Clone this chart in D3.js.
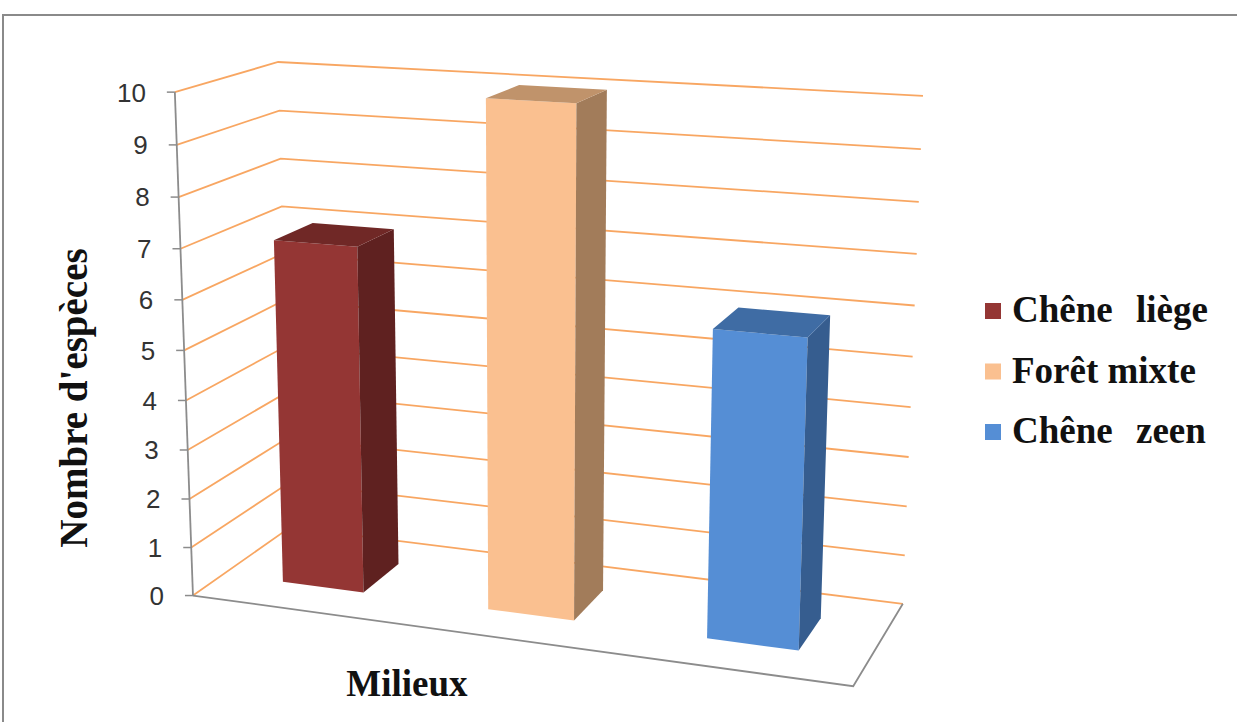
<!DOCTYPE html>
<html>
<head>
<meta charset="utf-8">
<script src="https://cdn.jsdelivr.net/npm/d3@7"></script>
<style>
  body { margin: 0; background: #fff; }
  svg { display: block; }
</style>
</head>
<body>
<svg id="chart" width="1237" height="722"></svg>
<script>
// data
const series = ["Chêne liège", "Forêt mixte", "Chêne zeen"];
const values = [7, 10, 6];
const frontColors = ["#943634", "#fac090", "#558ed5"];
const sideColors = ["#5f2120", "#a27c5a", "#365d8f"];
const topColors = ["#702826", "#c0936b", "#3f6ca4"];
const yMax = 10;

const svg = d3.select("#chart");
const W = 1237, H = 722;

// where the corners of the 3d box land on screen (unit cube: x, value, depth)
const calib = [
  [[0, 1, 0], [175, 92]],
  [[0, 0, 0], [193, 595]],
  [[0, 1, 1], [278, 62]],
  [[0, 0, 1], [290, 528]],
  [[1, 1, 1], [923, 96]],
  [[1, 0, 1], [903, 603]],
  [[1, 0, 0], [853, 687]]
];

// least squares fit of a 3x4 projection (DLT)
function solveCamera(pts) {
  const rows = [], rhs = [];
  pts.forEach(([[X, Y, Z], [u, v]]) => {
    rows.push([X, Y, Z, 1, 0, 0, 0, 0, -u * X, -u * Y, -u * Z]); rhs.push(u);
    rows.push([0, 0, 0, 0, X, Y, Z, 1, -v * X, -v * Y, -v * Z]); rhs.push(v);
  });
  const n = 11;
  const M = [];
  for (let i = 0; i < n; i++) {
    const r = new Array(n + 1).fill(0);
    rows.forEach((row, k) => {
      for (let j = 0; j < n; j++) r[j] += row[i] * row[j];
      r[n] += row[i] * rhs[k];
    });
    M.push(r);
  }
  for (let c = 0; c < n; c++) {
    let p = c;
    for (let r = c + 1; r < n; r++) if (Math.abs(M[r][c]) > Math.abs(M[p][c])) p = r;
    [M[c], M[p]] = [M[p], M[c]];
    for (let r = 0; r < n; r++) {
      if (r === c) continue;
      const f = M[r][c] / M[c][c];
      for (let k = c; k <= n; k++) M[r][k] -= f * M[c][k];
    }
  }
  return M.map((r, i) => r[n] / r[i]);
}
const cam = solveCamera(calib);
function project([X, Y, Z]) {
  const w = cam[8] * X + cam[9] * Y + cam[10] * Z + 1;
  return [
    (cam[0] * X + cam[1] * Y + cam[2] * Z + cam[3]) / w,
    (cam[4] * X + cam[5] * Y + cam[6] * Z + cam[7]) / w
  ];
}

const x = d3.scaleBand().domain(series).range([0, 1]).paddingInner(0.6).paddingOuter(0.3);
const y = d3.scaleLinear().domain([0, yMax]).range([0, 1]);
const zFront = 0.3, zBack = 0.7;

const line = d3.line();
const poly = pts => line(pts.map(project)) + "Z";

// frame
svg.append("rect")
  .attr("x", 3).attr("y", 15)
  .attr("width", W + 50).attr("height", H + 50)
  .attr("fill", "none")
  .attr("stroke", "#8a8a8a")
  .attr("stroke-width", 2);

const ticks = y.ticks(10);

// gridlines on left and back walls
svg.append("g").selectAll("path")
  .data(ticks)
  .join("path")
  .attr("d", t => line([[0, y(t), 0], [0, y(t), 1], [1, y(t), 1]].map(project)))
  .attr("fill", "none")
  .attr("stroke", "#f79646")
  .attr("stroke-opacity", 0.85)
  .attr("stroke-width", 1.8);

// floor edges
svg.append("path")
  .attr("d", line([[0, 0, 0], [1, 0, 0], [1, 0, 1]].map(project)))
  .attr("fill", "none")
  .attr("stroke", "#8c8c8c")
  .attr("stroke-width", 1.8);

// vertical axis + ticks
svg.append("path")
  .attr("d", line([[0, 0, 0], [0, 1, 0]].map(project)))
  .attr("stroke", "#8c8c8c")
  .attr("stroke-width", 1.8);

const tickG = svg.append("g").selectAll("g")
  .data(ticks)
  .join("g")
  .attr("transform", t => { const p = project([0, y(t), 0]); return `translate(${p[0]},${p[1]})`; });
tickG.append("line")
  .attr("x1", -8).attr("x2", 0)
  .attr("stroke", "#8c8c8c")
  .attr("stroke-width", 1.5);
tickG.append("text")
  .attr("x", -29)
  .attr("dy", "0.36em")
  .attr("text-anchor", "end")
  .attr("font-family", "Liberation Sans, Arial, sans-serif")
  .attr("font-size", 26)
  .attr("fill", "#333")
  .text(t => t);

// bars
const bars = series.map((s, i) => ({ name: s, value: values[i], i }));
const barG = svg.append("g").selectAll("g")
  .data(bars)
  .join("g");

barG.append("path") // front
  .attr("d", d => {
    const x0 = x(d.name), x1 = x0 + x.bandwidth(), h = y(d.value);
    return poly([[x0, 0, zFront], [x1, 0, zFront], [x1, h, zFront], [x0, h, zFront]]);
  })
  .attr("fill", d => frontColors[d.i]);

barG.append("path") // right side
  .attr("d", d => {
    const x1 = x(d.name) + x.bandwidth(), h = y(d.value);
    return poly([[x1, 0, zFront], [x1, 0, zBack], [x1, h, zBack], [x1, h, zFront]]);
  })
  .attr("fill", d => sideColors[d.i]);

barG.append("path") // top
  .attr("d", d => {
    const x0 = x(d.name), x1 = x0 + x.bandwidth(), h = y(d.value);
    return poly([[x0, h, zFront], [x1, h, zFront], [x1, h, zBack], [x0, h, zBack]]);
  })
  .attr("fill", d => topColors[d.i]);

// axis titles
svg.append("text")
  .attr("transform", "translate(87,398) rotate(-90)")
  .attr("text-anchor", "middle")
  .attr("font-family", "Liberation Serif, Times New Roman, serif")
  .attr("font-weight", "bold")
  .attr("font-size", 39)
  .attr("fill", "#111")
  .text("Nombre d'espèces");

svg.append("text")
  .attr("x", 407).attr("y", 696)
  .attr("text-anchor", "middle")
  .attr("font-family", "Liberation Serif, Times New Roman, serif")
  .attr("font-weight", "bold")
  .attr("font-size", 37)
  .attr("fill", "#111")
  .text("Milieux");

// legend
const legend = svg.append("g").selectAll("g")
  .data(bars)
  .join("g")
  .attr("transform", d => `translate(985,${322 + d.i * 60.5})`);
legend.append("rect")
  .attr("x", 0).attr("y", -19)
  .attr("width", 16).attr("height", 16)
  .attr("fill", d => frontColors[d.i]);
legend.append("text")
  .attr("x", 27)
  .attr("font-family", "Liberation Serif, Times New Roman, serif")
  .attr("font-weight", "bold")
  .attr("font-size", 37)
  .attr("word-spacing", d => d.name.startsWith("Chêne") ? 14 : 0)
  .attr("fill", "#111")
  .text(d => d.name);
</script>
</body>
</html>
